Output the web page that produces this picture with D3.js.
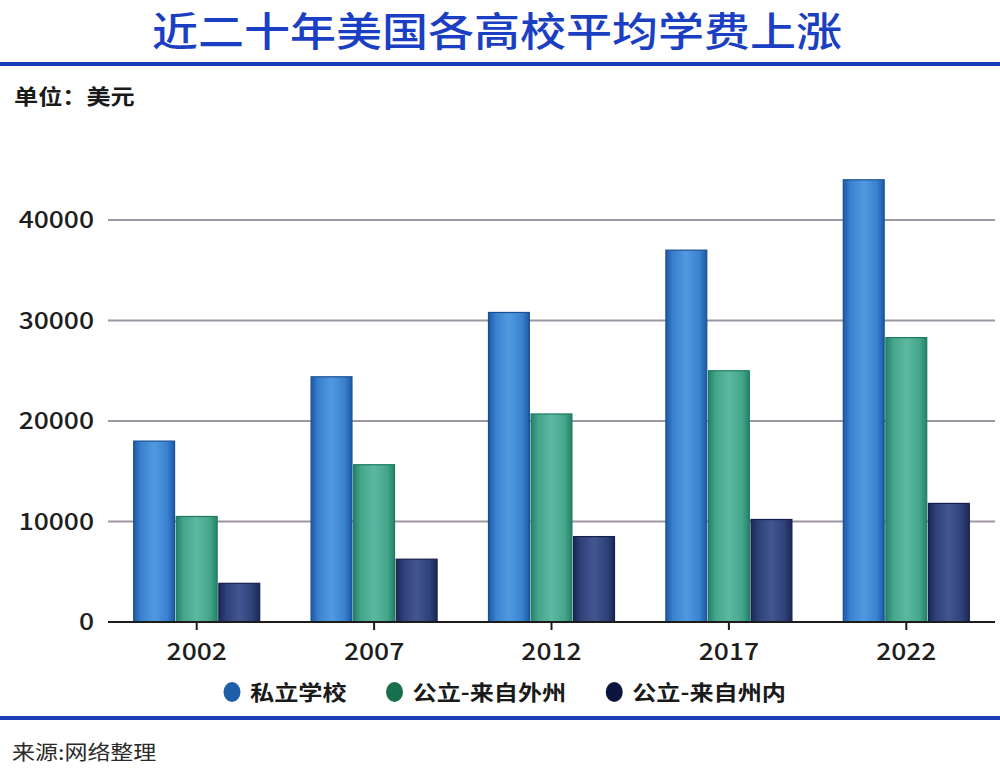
<!DOCTYPE html>
<html>
<head>
<meta charset="utf-8">
<script src="https://cdn.jsdelivr.net/npm/d3@7"></script>
<style>
  html, body { margin: 0; padding: 0; background: #ffffff; }
  svg { display: block; }
  text { font-family: "Noto Sans CJK SC", "Noto Sans", sans-serif; }
</style>
</head>
<body>
<svg id="chart" width="1000" height="779"></svg>
<script>
// ---- data ----
const titleText = "近二十年美国各高校平均学费上涨";
const unitText = "单位：美元";
const sourceText = "来源:网络整理";
const years = ["2002", "2007", "2012", "2017", "2022"];
const seriesNames = ["私立学校", "公立-来自外州", "公立-来自州内"];
const privateSchool = [18000, 24400, 30800, 37000, 44000];
const publicOutState = [10500, 15650, 20700, 25000, 28300];
const publicInState = [3850, 6250, 8500, 10200, 11800];
const yTicks = [0, 10000, 20000, 30000, 40000];

// ---- styles ----
const seriesStyle = [
  { dark: "#1d59a6", mid: "#3a82cf", light: "#5199df", stroke: "#1a4f94", legend: "#1f5ea8" },
  { dark: "#23836a", mid: "#45a68b", light: "#5cb89e", stroke: "#1f7a60", legend: "#17704c" },
  { dark: "#1b2756", mid: "#2f4179", light: "#435690", stroke: "#16214b", legend: "#0c1540" }
];
const SX = 1.15; // horizontal stretch of the reference text

const svg = d3.select("#chart");
const defs = svg.append("defs");
seriesStyle.forEach((s, i) => {
  const g = defs.append("linearGradient").attr("id", "grad" + i)
    .attr("x1", "0").attr("y1", "0").attr("x2", "1").attr("y2", "0");
  g.append("stop").attr("offset", "0").attr("stop-color", s.dark);
  g.append("stop").attr("offset", "0.18").attr("stop-color", s.mid);
  g.append("stop").attr("offset", "0.5").attr("stop-color", s.light);
  g.append("stop").attr("offset", "0.82").attr("stop-color", s.mid);
  g.append("stop").attr("offset", "1").attr("stop-color", s.dark);
});

function stretchedText(sel, x, y, txt) {
  return sel.append("text")
    .attr("transform", `translate(${x},${y}) scale(${SX},1)`)
    .text(txt);
}

// ---- title ----
stretchedText(svg, 497, 46, titleText)
  .attr("text-anchor", "middle")
  .attr("font-size", 40)
  .attr("font-weight", 500)
  .attr("fill", "#1b3fc2");

svg.append("rect").attr("x", 0).attr("y", 62).attr("width", 1000).attr("height", 4).attr("fill", "#1a3db8");

stretchedText(svg, 14, 104, unitText)
  .attr("font-size", 21)
  .attr("font-weight", 700)
  .attr("fill", "#1a1a1a");

// ---- scales ----
const plotLeft = 108, plotRight = 995;
const y = d3.scaleLinear().domain([0, 40000]).range([622, 220]);
const x0 = d3.scaleBand().domain(years).range([plotLeft, plotRight]).padding(0);
const groupW = 126;
const x1 = d3.scaleBand().domain(d3.range(3))
  .range([(x0.bandwidth() - groupW) / 2, (x0.bandwidth() + groupW) / 2])
  .paddingInner(0.04);

// ---- gridlines ----
svg.append("g").selectAll("line").data(yTicks.filter(d => d > 0)).join("line")
  .attr("x1", plotLeft).attr("x2", plotRight)
  .attr("y1", d => y(d)).attr("y2", d => y(d))
  .attr("stroke", "#9e96a2").attr("stroke-width", 2);

// ---- y labels ----
const yLab = svg.append("g");
yTicks.forEach(t => {
  stretchedText(yLab, 94, y(t) + 8, d3.format("d")(t))
    .attr("text-anchor", "end")
    .attr("font-size", 23)
    .attr("font-weight", 500)
    .attr("fill", "#1e1e1e");
});

// ---- bars ----
const seriesData = [privateSchool, publicOutState, publicInState];
const barData = [];
years.forEach((yr, i) => {
  seriesData.forEach((arr, s) => barData.push({ year: yr, s: s, v: arr[i] }));
});
svg.append("g").selectAll("rect").data(barData).join("rect")
  .attr("x", d => x0(d.year) + x1(d.s))
  .attr("y", d => y(d.v))
  .attr("width", x1.bandwidth())
  .attr("height", d => y(0) - y(d.v))
  .attr("fill", d => `url(#grad${d.s})`)
  .attr("stroke", d => seriesStyle[d.s].stroke)
  .attr("stroke-width", 1.2);

// ---- x axis ----
svg.append("line").attr("x1", plotLeft).attr("x2", plotRight)
  .attr("y1", y(0)).attr("y2", y(0))
  .attr("stroke", "#1c1c1c").attr("stroke-width", 2);
const xAx = svg.append("g");
years.forEach(yr => {
  const cx = x0(yr) + x0.bandwidth() / 2;
  xAx.append("line").attr("x1", cx).attr("x2", cx).attr("y1", y(0)).attr("y2", y(0) + 8)
    .attr("stroke", "#1c1c1c").attr("stroke-width", 2);
  stretchedText(xAx, cx, 660, yr)
    .attr("text-anchor", "middle")
    .attr("font-size", 23)
    .attr("font-weight", 500)
    .attr("fill", "#1e1e1e");
});

// ---- legend ----
const legend = svg.append("g");
let lx = 232;
seriesNames.forEach((name, i) => {
  legend.append("ellipse").attr("cx", lx).attr("cy", 692).attr("rx", 8.5).attr("ry", 10)
    .attr("fill", seriesStyle[i].legend);
  const t = stretchedText(legend, lx + 18, 700, name)
    .attr("font-size", 21)
    .attr("font-weight", 700)
    .attr("fill", "#1a1a1a");
  const w = t.node().getComputedTextLength() * SX;
  lx = lx + 18 + w + 48;
});

svg.append("rect").attr("x", 0).attr("y", 716).attr("width", 1000).attr("height", 4).attr("fill", "#1a3db8");

stretchedText(svg, 12, 760, sourceText)
  .attr("font-size", 20)
  .attr("font-weight", 400)
  .attr("fill", "#2a2a2a");
</script>
</body>
</html>
